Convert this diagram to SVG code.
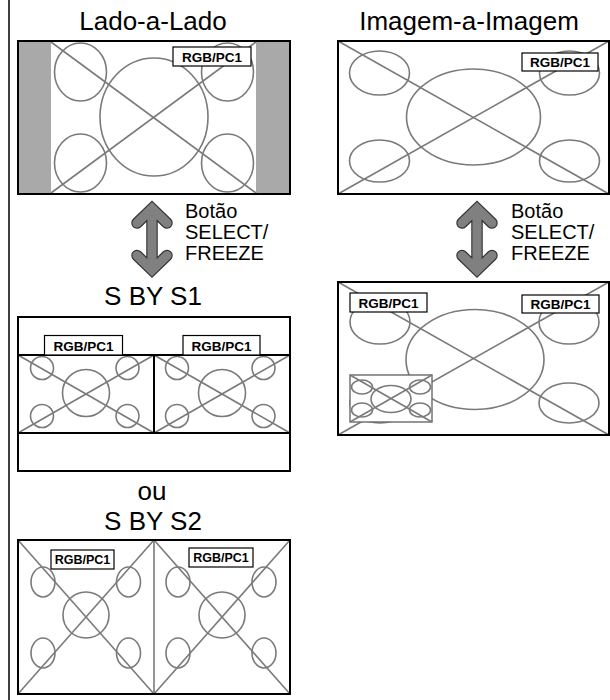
<svg xmlns="http://www.w3.org/2000/svg" width="610" height="700" viewBox="0 0 610 700">
<style>
.bg{fill:#fff}
.frame{fill:none;stroke:#000;stroke-width:2}
.g{fill:none;stroke:#7a7a7a;stroke-width:1.6}
.gw{fill:#fff;stroke:#6a6a6a;stroke-width:1.4}
.bar{fill:#a9a9a9}
.lb{fill:#fff;stroke:#000;stroke-width:1.2}
.lt{font-family:"Liberation Sans",Arial,sans-serif;font-weight:bold;font-size:13.5px;text-anchor:middle;fill:#000}
.lt2{font-family:"Liberation Sans",Arial,sans-serif;font-weight:bold;font-size:12.5px;text-anchor:middle;fill:#000}
.title{font-family:"Liberation Sans",Arial,sans-serif;font-size:26px;text-anchor:middle;fill:#000}
.btn{font-family:"Liberation Sans",Arial,sans-serif;font-size:20px;fill:#000}
.arO{fill:none;stroke:#333;stroke-width:11.5;stroke-linecap:round;stroke-linejoin:miter}
.arI{fill:none;stroke:#808080;stroke-width:9.2;stroke-linecap:round;stroke-linejoin:miter}
</style>
<rect x="0" y="0" width="610" height="700" class="bg"/>
<line x1="9" y1="0" x2="9" y2="700" stroke="#000" stroke-width="1.5"/>

<g id="lado-a-lado">
<text x="153" y="30" class="title">Lado-a-Lado</text>
<rect x="18" y="41" width="272" height="153" class="bg"/>
<rect x="19" y="42" width="32" height="151" class="bar"/>
<rect x="256" y="42" width="33" height="151" class="bar"/>
<line x1="51" y1="42" x2="256" y2="193" class="g"/>
<line x1="51" y1="193" x2="256" y2="42" class="g"/>
<ellipse cx="154" cy="117" rx="54" ry="59" class="g"/>
<ellipse cx="80.5" cy="72" rx="26" ry="29" class="g"/>
<ellipse cx="227.5" cy="72" rx="26" ry="29" class="g"/>
<ellipse cx="80.5" cy="163" rx="26" ry="29" class="g"/>
<ellipse cx="227.5" cy="163" rx="26" ry="29" class="g"/>
<rect x="173" y="47" width="78" height="19" class="lb"/>
<text x="212" y="61.5" class="lt">RGB/PC1</text>
<rect x="18" y="41" width="272" height="153" class="frame"/>
</g>

<g id="imagem-a-imagem">
<text x="469" y="30" class="title">Imagem-a-Imagem</text>
<rect x="338" y="41" width="271" height="153" class="bg"/>
<line x1="338" y1="41" x2="609" y2="194" class="g"/>
<line x1="338" y1="194" x2="609" y2="41" class="g"/>
<ellipse cx="473.5" cy="117" rx="67" ry="48" class="g"/>
<ellipse cx="379.5" cy="73" rx="30" ry="22" class="g"/>
<ellipse cx="569.5" cy="73" rx="30" ry="22" class="g"/>
<ellipse cx="379.5" cy="161" rx="30" ry="21" class="g"/>
<ellipse cx="569.5" cy="161" rx="30" ry="21" class="g"/>
<rect x="522" y="53" width="76" height="18" class="lb"/>
<text x="560" y="67" class="lt">RGB/PC1</text>
<rect x="338" y="41" width="271" height="153" class="frame"/>
</g>

<g id="connectors">
<path d="M137,223 L152,208.5 L167,223 M152,208.5 L152,270 M137,255.5 L152,270 L167,255.5" class="arO"/>
<path d="M137,223 L152,208.5 L167,223 M152,208.5 L152,270 M137,255.5 L152,270 L167,255.5" class="arI"/>
<path d="M462,223 L477,208.5 L492,223 M477,208.5 L477,270 M462,255.5 L477,270 L492,255.5" class="arO"/>
<path d="M462,223 L477,208.5 L492,223 M477,208.5 L477,270 M462,255.5 L477,270 L492,255.5" class="arI"/>
</g>

<g id="botao-left">
<text x="185" y="218" class="btn">Botão</text>
<text x="185" y="239" class="btn">SELECT/</text>
<text x="185" y="259.5" class="btn">FREEZE</text>
</g>

<g id="botao-right">
<text x="511" y="218" class="btn">Botão</text>
<text x="511" y="239" class="btn">SELECT/</text>
<text x="511" y="259.5" class="btn">FREEZE</text>
</g>

<g id="s-by-s1">
<text x="153" y="305" class="title">S BY S1</text>
<rect x="18" y="317" width="272" height="154" class="bg"/>
<line x1="18" y1="355" x2="154" y2="433" class="g"/>
<line x1="18" y1="433" x2="154" y2="355" class="g"/>
<circle cx="86" cy="393" r="23.5" class="g"/>
<circle cx="42" cy="368" r="11.5" class="g"/>
<circle cx="127.5" cy="368" r="11.5" class="g"/>
<circle cx="42" cy="416" r="11.5" class="g"/>
<circle cx="127.5" cy="416" r="11.5" class="g"/>
<line x1="154" y1="355" x2="290" y2="433" class="g"/>
<line x1="154" y1="433" x2="290" y2="355" class="g"/>
<circle cx="222" cy="393" r="23.5" class="g"/>
<circle cx="177" cy="368" r="11.5" class="g"/>
<circle cx="263.5" cy="368" r="11.5" class="g"/>
<circle cx="177" cy="416" r="11.5" class="g"/>
<circle cx="263.5" cy="416" r="11.5" class="g"/>
<line x1="18" y1="355" x2="290" y2="355" class="frame"/>
<line x1="18" y1="433" x2="290" y2="433" class="frame"/>
<line x1="154" y1="355" x2="154" y2="433" class="frame"/>
<rect x="44.5" y="335.5" width="78" height="19.5" class="lb"/>
<text x="83.5" y="350.5" class="lt">RGB/PC1</text>
<rect x="183" y="335.5" width="77" height="19.5" class="lb"/>
<text x="221.5" y="350.5" class="lt">RGB/PC1</text>
<rect x="18" y="317" width="272" height="154" class="frame"/>
</g>

<g id="s-by-s2">
<text x="152" y="500" class="title">ou</text>
<text x="153" y="530" class="title">S BY S2</text>
<rect x="18" y="540" width="272" height="154" class="bg"/>
<line x1="18" y1="540" x2="154" y2="694" class="g"/>
<line x1="18" y1="694" x2="154" y2="540" class="g"/>
<circle cx="86" cy="615" r="23" class="g"/>
<ellipse cx="43" cy="582" rx="12" ry="15" class="g"/>
<ellipse cx="128.5" cy="582" rx="12" ry="15" class="g"/>
<ellipse cx="43" cy="653" rx="12" ry="15" class="g"/>
<ellipse cx="128.5" cy="653" rx="12" ry="15" class="g"/>
<line x1="154" y1="540" x2="290" y2="694" class="g"/>
<line x1="154" y1="694" x2="290" y2="540" class="g"/>
<circle cx="222" cy="615" r="23" class="g"/>
<ellipse cx="178" cy="582" rx="12" ry="15" class="g"/>
<ellipse cx="264" cy="582" rx="12" ry="15" class="g"/>
<ellipse cx="178" cy="653" rx="12" ry="15" class="g"/>
<ellipse cx="264" cy="653" rx="12" ry="15" class="g"/>
<line x1="154" y1="540" x2="154" y2="694" class="g"/>
<rect x="51" y="550" width="63" height="19" class="lb"/>
<text x="82.5" y="564" class="lt2">RGB/PC1</text>
<rect x="189" y="548" width="64" height="19" class="lb"/>
<text x="221" y="562" class="lt2">RGB/PC1</text>
<rect x="18" y="540" width="272" height="154" class="frame"/>
</g>

<g id="pip">
<rect x="338" y="282" width="271" height="153" class="bg"/>
<line x1="338" y1="282" x2="609" y2="435" class="g"/>
<line x1="338" y1="435" x2="609" y2="282" class="g"/>
<ellipse cx="475" cy="359.5" rx="69" ry="50" class="g"/>
<ellipse cx="380" cy="322" rx="30" ry="22" class="g"/>
<ellipse cx="569" cy="322" rx="30" ry="22" class="g"/>
<ellipse cx="380" cy="403" rx="30" ry="20" class="g"/>
<ellipse cx="569" cy="403" rx="30" ry="20" class="g"/>
<rect x="350" y="375" width="82" height="47" class="gw"/>
<line x1="350" y1="375" x2="432" y2="422" class="g" stroke-width="1.1"/>
<line x1="350" y1="422" x2="432" y2="375" class="g" stroke-width="1.1"/>
<ellipse cx="391" cy="399" rx="20" ry="13.5" class="g" stroke-width="1.1"/>
<ellipse cx="362" cy="387" rx="10.5" ry="7" class="g" stroke-width="1.1"/>
<ellipse cx="420" cy="387" rx="10.5" ry="7" class="g" stroke-width="1.1"/>
<ellipse cx="362" cy="410" rx="10.5" ry="7" class="g" stroke-width="1.1"/>
<ellipse cx="420" cy="410" rx="10.5" ry="7" class="g" stroke-width="1.1"/>
<rect x="350" y="293" width="77" height="19" class="lb"/>
<text x="388.5" y="307.5" class="lt">RGB/PC1</text>
<rect x="522" y="295" width="77" height="18" class="lb"/>
<text x="560.5" y="309" class="lt">RGB/PC1</text>
<rect x="338" y="282" width="271" height="153" class="frame"/>
</g>
</svg>
